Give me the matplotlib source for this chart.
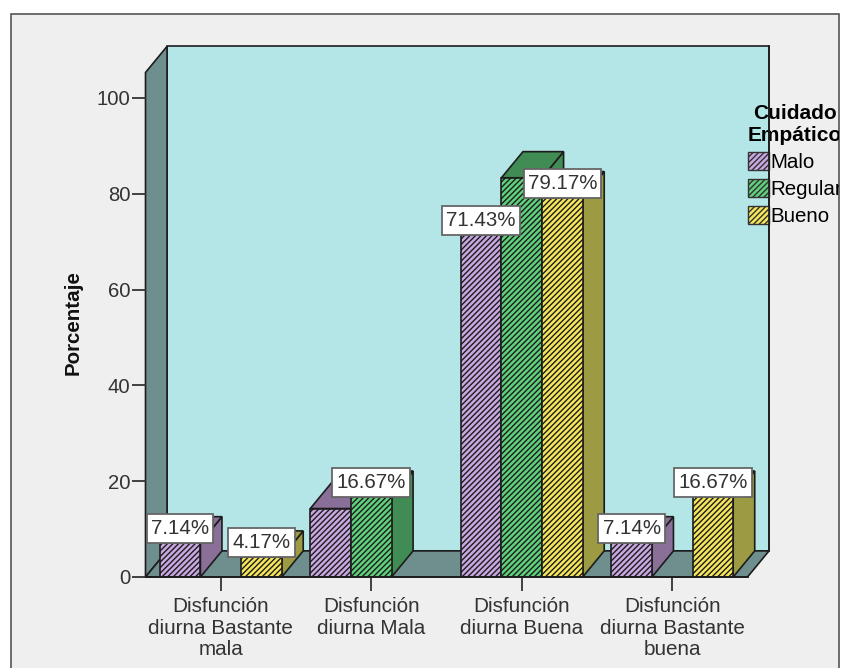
import numpy as np
import matplotlib
matplotlib.use("Agg")
import matplotlib.pyplot as plt
from matplotlib.patches import Patch, Polygon, Rectangle
from matplotlib.path import Path

plt.rcParams['font.family'] = ['Liberation Sans', 'DejaVu Sans']
plt.rcParams['hatch.linewidth'] = 1.0

categories = ['Disfunción\ndiurna Bastante\nmala', 'Disfunción\ndiurna Mala',
              'Disfunción\ndiurna Buena', 'Disfunción\ndiurna Bastante\nbuena']
series = ['Malo', 'Regular', 'Bueno']
malo = [7.14, 14.29, 71.43, 7.14]
regular = [0, 16.67, 83.33, 0]
bueno = [4.17, 0, 79.17, 16.67]
# only these bars carry a value box
malo_labels = ['7.14%', None, '71.43%', '7.14%']
regular_labels = [None, '16.67%', None, None]
bueno_labels = ['4.17%', None, '79.17%', '16.67%']
yticks = [0, 20, 40, 60, 80, 100]

front_colors = ['#c9a8e2', '#5fd07c', '#f6e65c']
side_colors = ['#8a6f99', '#418b55', '#9c9a42']
wall_color = '#b5e6e7'
floor_color = '#6f8f8f'
edge = '#1c1c1c'

W, H = 841, 668
fig = plt.figure(figsize=(W / 100, H / 100), dpi=100, facecolor='white')

# grey panel, open at the bottom
panel = Rectangle((10.5 / W, -0.05), 828 / W, 1.05 - 14.5 / H, transform=fig.transFigure,
                  fc='#efefef', ec='#555555', lw=1.2, zorder=-1)
fig.add_artist(panel)

ax = fig.add_axes([145.5 / W, (H - 577) / H, 602 / W, 504.5 / H])
ax.patch.set_visible(False)
ax.set_xlim(-0.5, 3.5)
ax.set_ylim(0, 105.3)
for name in ['top', 'right', 'left']:
    ax.spines[name].set_visible(False)
ax.spines['bottom'].set_color(edge)
ax.spines['bottom'].set_linewidth(1.3)
ax.spines['bottom'].set_zorder(4)

# depth of the fake 3D box, in data units
dx = 0.143
dy = 5.45
x0, x1 = ax.get_xlim()
y0, y1 = ax.get_ylim()


def poly(pts, fc, z):
    ax.add_patch(Polygon(pts, closed=True, fc=fc, ec=edge, lw=1.2, zorder=z, clip_on=False))


def tall_box(x, y, w, h, mutation_size):
    # value box with more room above and below the text than at the sides
    pad_x = 0.2 * mutation_size
    pad_y = 0.25 * mutation_size
    return Path([(x - pad_x, y - pad_y), (x + w + pad_x, y - pad_y), (x + w + pad_x, y + h + pad_y),
                 (x - pad_x, y + h + pad_y), (x - pad_x, y - pad_y)], closed=True)


poly([(x0 + dx, y0 + dy), (x1 + dx, y0 + dy), (x1 + dx, y1 + dy), (x0 + dx, y1 + dy)], wall_color, 1)
poly([(x0, y0), (x0 + dx, y0 + dy), (x0 + dx, y1 + dy), (x0, y1)], floor_color, 1.1)
poly([(x0, y0), (x1, y0), (x1 + dx, y0 + dy), (x0 + dx, y0 + dy)], floor_color, 1.1)

# bars painted left to right so each one hides the side of the previous
width = 0.27
values = [malo, regular, bueno]
labels = [malo_labels, regular_labels, bueno_labels]
z = 2.0
for c in range(len(categories)):
    for s in range(len(series)):
        v = values[s][c]
        if v == 0:
            continue
        left = c + (s - 1.5) * width
        right = left + width
        poly([(right, 0), (right + dx, dy), (right + dx, v + dy), (right, v)], side_colors[s], z)
        poly([(left, v), (right, v), (right + dx, v + dy), (left + dx, v + dy)], side_colors[s], z + 0.01)
        ax.bar(left, v, width, align='edge', color=front_colors[s], edgecolor=edge,
               hatch='//////', linewidth=1.2, zorder=z + 0.02)
        z += 0.1

for c in range(len(categories)):
    for s in range(len(series)):
        if labels[s][c] is not None:
            ax.annotate(labels[s][c], (c + (s - 1) * width, values[s][c]),
                        xytext=(0, 3.6), textcoords='offset points', ha='center', va='bottom',
                        fontsize=14.8, color='#333333', zorder=20,
                        bbox=dict(boxstyle=tall_box, fc='white', ec='#666666', lw=1.3))

ax.set_xticks(range(len(categories)))
ax.set_xticklabels(categories, linespacing=1.16)
ax.set_yticks(yticks)
ax.tick_params(axis='x', length=10, width=1.3, color='#333333', labelsize=14.9,
               labelcolor='#333333', pad=4.5)
ax.tick_params(axis='y', length=10, width=1.3, color='#333333', labelsize=14.6,
               labelcolor='#333333', pad=1)

fig.text(73 / W, (H - 323) / H, 'Porcentaje', rotation=90, fontsize=14.8, fontweight='bold',
         color='#111111', ha='center', va='center')

handles = [Patch(fc=front_colors[i], ec='#333333', hatch='//////', lw=1.0, label=series[i])
           for i in range(len(series))]
leg = ax.legend(handles=handles, title='Cuidado\nEmpático', frameon=False, fontsize=14.8,
                title_fontproperties={'weight': 'bold', 'size': 15},
                loc='upper left', bbox_to_anchor=(748 / W, (H - 104) / H),
                bbox_transform=fig.transFigure, borderpad=0, borderaxespad=0,
                handlelength=1.0, handleheight=1.0, handletextpad=0.1, labelspacing=0.33,
                alignment='left')
leg.set_zorder(5)
leg.get_title().set_multialignment('center')

# text runs past the panel edge and gets cut there
for t in leg.get_texts() + [leg.get_title()]:
    t.set_clip_path(panel)
    t.set_clip_on(True)

# right edge of the back wall stays above the legend swatches
ax.plot([x1 + dx, x1 + dx], [y0 + dy, y1 + dy], color=edge, lw=1.2, zorder=6, clip_on=False)

fig.savefig('out.png', dpi=100)
